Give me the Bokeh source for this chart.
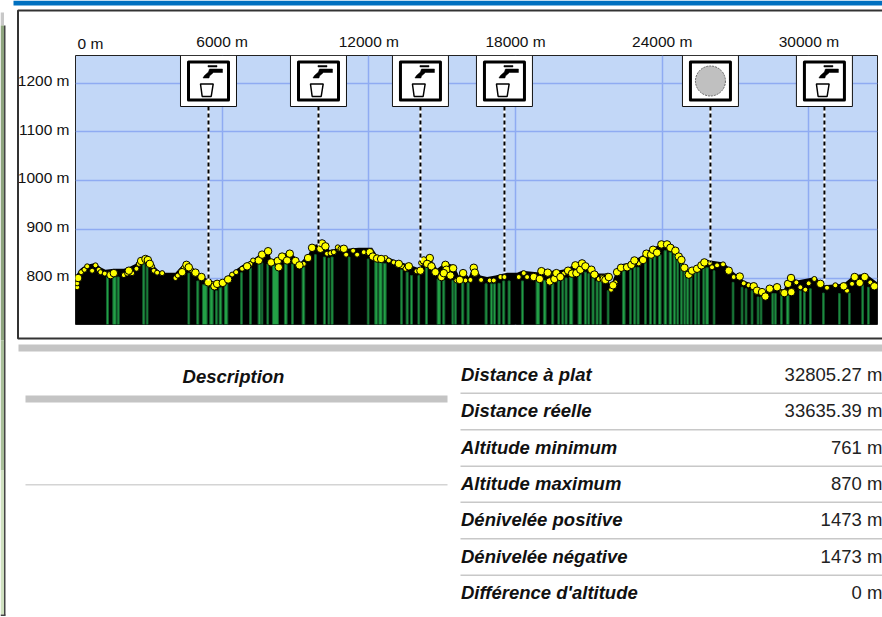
from bokeh.plotting import figure
from bokeh.embed import file_html
from bokeh.resources import INLINE
from bokeh.models import FixedTicker, LinearAxis, Range1d
from bokeh.core.properties import value

# ---- data ----
dist_ticks = [0, 6000, 12000, 18000, 24000, 30000]
alt_ticks = [800, 900, 1000, 1100, 1200]
total_distance = 32805.27

profile_d = [0, 68, 204, 409, 613, 818, 1022, 1227, 1567, 1976, 2181, 2453, 2658, 2903, 3135, 3407, 3612, 4089,
             4293, 4539, 4770, 5179, 5452, 5656, 6065, 6338, 6815, 7292, 7633, 7878, 8000, 8246, 8451, 8764, 9200,
             9541, 9677, 10086, 10427, 10768, 11111, 11588, 12134, 12338, 12747, 13156, 13701, 14110, 14178, 14451,
             14792, 15132, 15473, 15678, 15882, 16087, 16291, 16564, 16836, 17177, 17654, 18063, 18267, 18881, 19085,
             19358, 19699, 20107, 20448, 20720, 21130, 21402, 21745, 21881, 22154, 22358, 22699, 23176, 23517, 23994,
             24198, 24539, 24880, 25084, 25561, 25834, 26515, 26924, 27333, 27810, 28151, 28423, 28968, 29241, 29514,
             30265, 30604, 31422, 31831, 32308, 32805]
profile_a = [778, 809, 819, 826, 829, 831, 822, 817, 819, 819, 822, 829, 841, 846, 829, 815, 811, 811,
             822, 831, 821, 805, 795, 791, 795, 809, 826, 839, 853, 860, 839, 836, 848, 855, 832,
             850, 867, 872, 856, 863, 860, 862, 862, 846, 843, 835, 826, 819, 836, 846,
             819, 832, 826, 805, 814, 802, 826, 805, 802, 805, 811, 811, 815, 812, 819,
             815, 815, 819, 830, 836, 821, 809, 809, 781, 819, 829, 832, 846, 858, 872,
             872, 863, 829, 812, 829, 837, 832, 812, 795, 785, 768, 785, 776, 805, 795,
             802, 785, 788, 805, 809, 791]

large_d = [109, 1431, 1567, 2181, 2685, 2862, 2958, 3039, 4361, 4539, 4634, 4907, 5152, 5425, 5684, 5793, 6024, 6243,
           7019, 7496, 7633, 7878, 8000, 8273, 8314, 8451, 8655, 8764, 8996, 9159, 9514, 9677, 10018, 10086, 10222,
           10975, 12038, 12161, 12338, 12502, 13224, 13633, 14110, 14246, 14492, 14383, 14560, 14723, 14969, 15132,
           15173, 15064, 15337, 15446, 15718, 15855, 16291, 16332, 18744, 18990, 19058, 19317, 19399, 19590, 19671,
           19835, 20148, 20312, 20448, 20489, 20652, 20720, 20857, 21102, 21225, 21607, 21769,
           21676, 21813, 21990, 22154, 22317, 22562, 22740, 22862, 23216, 23353, 23544, 23625, 23789, 23966, 24198,
           24334, 24539, 24675, 24784, 24907, 25084, 25220, 25425, 25602, 25724, 26720, 27170, 27742, 27878, 28082,
           28219, 28396, 28696, 28996, 29146, 29268, 29282, 30468, 31422, 31871, 32076, 32281, 32676]
large_a = [800, 806, 810, 815, 835, 839, 837, 829, 812, 827, 822, 811, 802, 791, 783, 788, 790, 797,
           824, 836, 848, 855, 832, 835, 822, 844, 836, 850, 835, 826, 841, 862, 860, 871, 865,
           860, 853, 844, 840, 839, 829, 824, 815, 836, 841, 829, 824, 812, 802, 827,
           817, 810, 805, 820, 796, 810, 821, 811, 802, 798, 814, 811, 793, 798, 810,
           802, 815, 809, 826, 810, 817, 830, 824, 817, 807, 798, 802,
           796, 802, 785, 812, 821, 822, 827, 836, 837, 850, 848, 858, 852, 869, 869,
           862, 856, 844, 837, 821, 807, 815, 819, 826, 832, 815, 803, 783, 774, 771,
           762, 778, 781, 769, 788, 800, 771, 788, 783, 802, 790, 802, 783]

small_d = [68, 68, 232, 368, 477, 681, 818, 954, 1022, 1199, 1976, 2113, 2317, 2494, 2590, 3135, 3203, 3339, 3544,
           4089, 4184, 4430, 4730, 5588, 6406, 6570, 6815, 7156, 7265, 9336, 10290, 10495, 10768,
           10430, 10566, 10730, 10839, 11071, 11357, 11520, 11793, 12679, 12815, 13020, 13360, 13497, 13947, 14137,
           15582, 15950, 16155, 16591, 16945, 17109, 17381, 17545, 18131, 18335, 18472, 19971, 21402,
           21540, 21908, 22085, 23039, 25943, 26038, 26243, 26488, 26924, 27333, 27537, 28900, 29487, 29650, 29854,
           29990, 30222, 30740, 31081, 31558, 31763, 32512]
small_a = [781, 789, 812, 817, 824, 815, 826, 817, 812, 809, 806, 809, 810, 819, 829, 824, 815, 811, 810,
           800, 805, 821, 817, 788, 807, 812, 819, 829, 836, 829, 850, 853, 860,
           851, 853, 863, 860, 848, 856, 848, 853, 841, 836, 832, 824, 819, 814, 831,
           795, 795, 796, 796, 795, 795, 802, 802, 802, 810, 802, 809, 798,
           802, 776, 791, 830, 831, 822, 826, 828, 802, 789, 785, 771, 791, 781, 776,
           789, 798, 780, 785, 774, 788, 791]

bar_d = [1308, 1595, 1745, 2794, 2930, 4634, 5002, 5288, 5561, 5765, 5929, 6161, 6788, 7156, 7524, 7633, 7864, 8178,
         8600, 8873, 9323, 9813, 10182, 10359, 10495, 11193, 11970, 12297, 12474, 12652, 13333, 13565, 13742, 14042,
         14355, 14860, 15064, 15432, 15541, 15841, 16059, 16795, 17013, 17136, 17327, 17518, 17736, 18281, 18908,
         19194, 19521, 19766, 19930, 20066, 20270, 20625, 20857, 20993, 21170, 21334, 21470, 21785, 22426, 22699,
         22876, 23012, 23312, 23517, 23694, 23898, 24130, 24334, 24498, 24634, 24784, 24920, 25043, 25180, 25357,
         25493, 25697, 25834, 26120, 26897, 27265, 27428, 27674, 27919, 28042, 28519, 28628, 28873, 29132, 29650,
         29814, 30059, 30591, 31245, 31654, 32199, 32430]
bar_w = [82, 136, 82, 82, 68, 68, 82, 191, 136, 68, 109, 136, 68, 68, 109, 55, 68, 245,
         109, 68, 109, 68, 82, 55, 82, 68, 68, 109, 136, 109, 68, 82, 82, 68,
         82, 136, 82, 68, 68, 82, 82, 82, 82, 82, 82, 82, 82, 82, 136,
         109, 82, 68, 68, 82, 136, 136, 82, 68, 82, 82, 82, 68, 109, 68,
         82, 82, 68, 82, 82, 109, 109, 109, 82, 68, 68, 68, 82, 68, 68,
         68, 68, 109, 68, 68, 68, 68, 68, 68, 68, 68, 68, 68, 109, 68,
         68, 68, 68, 68, 68, 68, 68]
bar_top = [802, 802, 802, 829, 829, 810, 794, 786, 780, 774, 780, 787, 811, 821, 829, 831, 829, 826,
           830, 829, 822, 848, 843, 841, 843, 843, 839, 835, 832, 830, 817, 812, 805, 805,
           822, 798, 796, 795, 795, 794, 790, 788, 788, 788, 789, 794, 794, 794, 794,
           795, 788, 794, 796, 800, 802, 807, 812, 809, 805, 794, 794, 774, 815, 817,
           822, 822, 832, 843, 846, 848, 856, 853, 848, 839, 829, 815, 805, 809, 812,
           815, 821, 821, 815, 791, 781, 778, 774, 761, 761, 768, 768, 764, 764, 774,
           774, 778, 769, 768, 769, 785, 781]

water_d = [5440, 9939, 14110, 17546, 30634]
water_a = [795, 867, 836, 811, 795]
other_d = [25972]
other_a = [832]

row_labels = ["Distance à plat", "Distance réelle", "Altitude minimum", "Altitude maximum",
              "Dénivelée positive", "Dénivelée négative", "Différence d'altitude"]
row_values = ["32805.27 m", "33635.39 m", "761 m", "870 m", "1473 m", "1473 m", "0 m"]
heading = "Description"

# ---- scales ----
W, H, H1 = 882, 617, 343
FL, FR, FT, FB = 75, 5, 55, 19
x0, x1 = 0, total_distance
y0, y1 = 704.5, 1257.0
PXX = (x1 - x0) / (W - FL - FR)
PXY = (y1 - y0) / (H1 - FT - FB)
ICON_Y = y1 - 25.5 * PXY
ICON_BOTTOM = y1 - 51 * PXY
TICK_FONT = "Liberation Sans"
LABEL_SHIFT = 6  # tick labels sit about 3 px above their grid lines

# ---- page background figure (coordinates: page pixels) ----
q = figure(width=W, height=H, x_range=Range1d(0, W), y_range=Range1d(H, 0),
           x_axis_location=None, y_axis_location=None, toolbar_location=None, output_backend="svg",
           min_border=0, border_fill_color="white", background_fill_color="white", outline_line_color=None,
           styles={"position": "absolute", "left": "0", "top": "0"})
q.grid.visible = False


def band(l, r, t, b, color):
    q.quad(left=[l], right=[r], top=[t], bottom=[b], fill_color=color, line_color=None)


band(13, W, 0, 5, "#0070c0")
band(0, 3.5, 12, 25, "#c8c8c8")
band(0, 3.5, 25, 340, "#8fa57f")
band(0, 3.5, 340, 470, "#a9bf9a")
band(0, 3.5, 470, 614, "#cfe0c0")
band(3.5, 5, 25, 615, "#444444")
band(0, 5, 614, 615.5, "#444444")
q.quad(left=[17.5], right=[W + 6], top=[10], bottom=[338], fill_color="white", line_color="#333333", line_width=2)
band(18, W, 344, 351, "#c4c4c4")
band(25, 447, 395, 402, "#c4c4c4")
band(25, 447, 483.5, 485, "#d4d4d4")

q.text(x=[77], y=[43], text=[f"{dist_ticks[0]} m"], text_align="left", text_baseline="middle",
       text_font=value(TICK_FONT), text_font_size="15.5px", text_color="#111111")

row_y = [374, 410.3, 446.6, 483, 519.3, 555.6, 591.5]
rule_y = [392, 428.5, 465, 501, 537.5, 574]
q.quad(left=[460] * 6, right=[W] * 6, top=rule_y, bottom=[r + 1.6 for r in rule_y], fill_color="#c8c8c8", line_color=None)

BOLD_IT = dict(text_font=value("Liberation Sans"), text_font_style="bold italic", text_color="#111111",
               text_baseline="middle")
q.text(x=[233], y=[376], text=[heading], text_align="center", text_font_size="18.5px", **BOLD_IT)
q.text(x=[460.5] * 7, y=row_y, text=row_labels, text_align="left", text_font_size="18.5px", **BOLD_IT)
q.text(x=[881.8] * 7, y=row_y, text=row_values, text_align="right", text_font_size="18.5px",
       text_font=value("Liberation Sans"), text_color="#222222", text_baseline="middle")

# ---- chart ----
p = figure(width=W, height=H1, x_range=Range1d(x0, x1), y_range=Range1d(y0, y1),
           x_axis_location=None, y_axis_location=None, toolbar_location=None, output_backend="svg",
           min_border_left=FL, min_border_right=FR, min_border_top=FT, min_border_bottom=FB,
           background_fill_color="#c2d7f7", border_fill_color=None,
           outline_line_color="#222222", outline_line_width=1,
           styles={"position": "absolute", "left": "0", "top": "0"})

xaxis = LinearAxis(ticker=FixedTicker(ticks=dist_ticks),
                   major_label_overrides={t: ("" if t == 0 else f"{t} m") for t in dist_ticks},
                   major_tick_line_color=None, minor_tick_line_color=None, axis_line_color=None,
                   major_label_standoff=0, major_label_text_font=TICK_FONT, major_label_text_font_size="15.5px",
                   major_label_text_color="#111111")
yaxis = LinearAxis(ticker=FixedTicker(ticks=[t + LABEL_SHIFT for t in alt_ticks]),
                   major_label_overrides={t + LABEL_SHIFT: f"{t} m" for t in alt_ticks},
                   major_tick_line_color=None, minor_tick_line_color=None, axis_line_color=None,
                   major_label_standoff=0, major_label_text_font=TICK_FONT, major_label_text_font_size="15.5px",
                   major_label_text_color="#111111")
p.add_layout(xaxis, "above")
p.add_layout(yaxis, "left")
p.xgrid.ticker = FixedTicker(ticks=dist_ticks)
p.ygrid.ticker = FixedTicker(ticks=alt_ticks)
p.xgrid.grid_line_color = "#8fabf2"
p.ygrid.grid_line_color = "#8fabf2"
p.xgrid.grid_line_width = 1.5
p.ygrid.grid_line_width = 1.5

p.varea(x=profile_d, y1=[y0] * len(profile_d), y2=profile_a, fill_color="black")
p.vbar(x=bar_d, width=bar_w, bottom=y0, top=bar_top, fill_color="#23a146", line_color="#14602f", line_width=1)
p.scatter(small_d, small_a, size=5, marker="circle", fill_color="#ffff00", line_color="black", line_width=1)
p.scatter(large_d, large_a, size=7.5, marker="circle", fill_color="#ffff00", line_color="black", line_width=1)

all_d = water_d + other_d
all_a = water_a + other_a
p.segment(x0=all_d, x1=all_d, y0=[ICON_BOTTOM] * 6, y1=all_a, line_color="white", line_width=2)
p.segment(x0=all_d, x1=all_d, y0=[ICON_BOTTOM] * 6, y1=all_a, line_color="black", line_width=2, line_dash="4 3")

p.rect(x=all_d, y=[ICON_Y] * 6, width=56, height=51, width_units="screen", height_units="screen",
       fill_color="white", line_color="#111111", line_width=1)
p.rect(x=all_d, y=[ICON_Y] * 6, width=40, height=38, width_units="screen", height_units="screen",
       fill_color="white", line_color="black", line_width=3, line_join="round")

handle = [(-0.5, -15.5), (8.5, -15.5), (8.5, -14), (-0.5, -14)]
spout = [(1, -12), (14, -12), (14, -8.5), (5, -8.5), (1, -5), (0.5, -3), (-5.5, -3), (-4, -5.5), (0, -9)]
cup = [(-8, 3), (4.7, 3), (2.7, 15.5), (-6.3, 15.5)]


def shape(cx, pts):
    return ([cx + a * PXX for a, _ in pts], [ICON_Y - b * PXY for _, b in pts])


for d in water_d:
    for pts in (handle, spout):
        xs, ys = shape(d, pts)
        p.patch(xs, ys, fill_color="black", line_color="black", line_width=0.5)
    xs, ys = shape(d, cup)
    p.patch(xs, ys, fill_color="white", line_color="black", line_width=1.5)

p.scatter(other_d, [ICON_Y] * len(other_d), marker="circle", size=30, fill_color="#c0c0c0",
          line_color="#666666", line_width=1, line_dash="2 1")

open("out.html", "w").write(file_html((q, p), INLINE))
